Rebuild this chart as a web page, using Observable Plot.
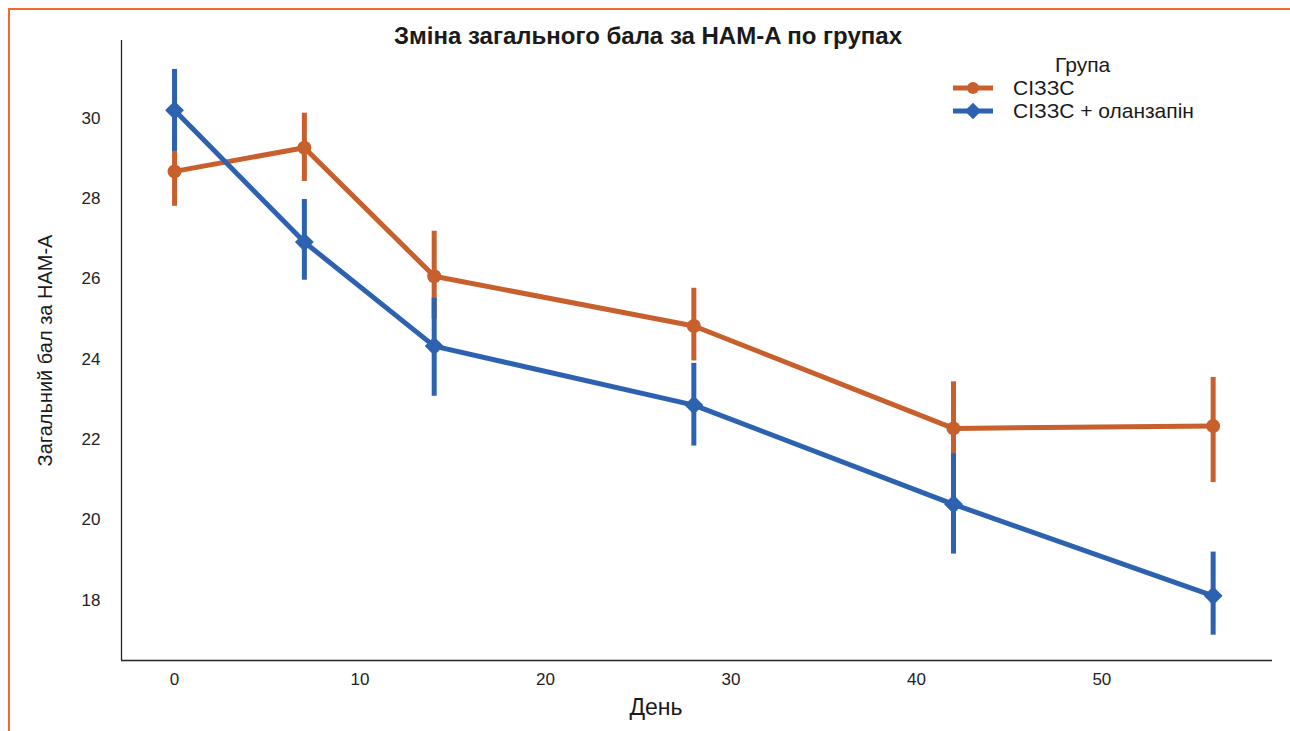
<!DOCTYPE html>
<html>
<head>
<meta charset="utf-8">
<script src="https://cdn.jsdelivr.net/npm/d3@7"></script>
<script src="https://cdn.jsdelivr.net/npm/@observablehq/plot@0.6"></script>
<style>
  html, body { margin: 0; padding: 0; background: #fff; }
  body { width: 1290px; height: 731px; position: relative; overflow: hidden; font-family: "Liberation Sans", Arial, sans-serif; }
  #frame { position: absolute; left: 8px; top: 8px; width: 1400px; height: 900px; border-left: 2.5px solid #f26a2c; border-top: 2.5px solid #f26a2c; }
  #chart { position: absolute; left: 0; top: 0; }
  #title { position: absolute; top: 22px; left: 0; width: 1296px; text-align: center; font-weight: bold; font-size: 24px; line-height: 28px; color: #1a1a1a; }
  #legend { position: absolute; left: 945px; top: 53px; font-size: 21px; line-height: 24px; color: #1a1a1a; }
  #legend .ttl { position: absolute; left: 110px; top: 0; white-space: nowrap; }
  #legend .row { position: absolute; left: 0; white-space: nowrap; height: 24px; }
  #legend .row svg { position: absolute; left: 0; top: 0; }
  #legend .row span { position: absolute; left: 68px; top: 0; }
</style>
</head>
<body>
<div id="frame"></div>
<div id="chart"></div>
<div id="title">Зміна загального бала за HAM-A по групах</div>
<div id="legend"></div>
<script>
// ---- data ----
const days = [0, 7, 14, 28, 42, 56];
const groups = ["СІЗЗС", "СІЗЗС + оланзапін"];
const ssriMean = [28.68, 29.27, 26.07, 24.83, 22.28, 22.34];
const ssriLow  = [27.81, 28.43, 25.00, 23.96, 21.12, 20.93];
const ssriHigh = [29.55, 30.13, 27.19, 25.77, 23.44, 23.55];
const olzMean  = [30.20, 26.92, 24.33, 22.86, 20.39, 18.11];
const olzLow   = [29.18, 25.97, 23.08, 21.84, 19.15, 17.13];
const olzHigh  = [31.22, 27.98, 25.52, 23.90, 21.65, 19.20];
const yTicks = [18, 20, 22, 24, 26, 28, 30];
const xTicks = [0, 10, 20, 30, 40, 50];
const colors = ["#c8602d", "#2d62b0"];
const symbols = ["circle", "diamond2"];

const rows = [];
days.forEach((d, i) => {
  rows.push({day: d, group: groups[0], mean: ssriMean[i], lo: ssriLow[i], hi: ssriHigh[i]});
});
days.forEach((d, i) => {
  rows.push({day: d, group: groups[1], mean: olzMean[i], lo: olzLow[i], hi: olzHigh[i]});
});

const xDomain = [-2.86, 59.2];
const yDomain = [16.5, 31.94];
const font = "Liberation Sans, Arial, sans-serif";

const marks = [
  Plot.axisY(yTicks, {tickSize: 0, tickPadding: 21, fontSize: 17, label: null, fill: "#222"}),
  Plot.axisX(xTicks, {tickSize: 0, tickPadding: 12, fontSize: 17, label: null, fill: "#222"}),
  Plot.ruleX([xDomain[0]], {stroke: "#262626", strokeWidth: 1.3}),
  Plot.ruleY([yDomain[0]], {stroke: "#262626", strokeWidth: 1.3}),
  Plot.text(["Загальний бал за HAM-A"], {frameAnchor: "left", textAnchor: "middle", rotate: -90, dx: -76, dy: 0, fontSize: 20, fill: "#1a1a1a"}),
  Plot.text(["День"], {frameAnchor: "bottom", textAnchor: "middle", dy: 54, dx: -41, fontSize: 23, fill: "#1a1a1a"})
];
groups.forEach((g, k) => {
  const data = rows.filter(r => r.group === g);
  marks.push(Plot.ruleX(data, {x: "day", y1: "lo", y2: "hi", stroke: colors[k], strokeWidth: 5}));
  marks.push(Plot.line(data, {x: "day", y: "mean", stroke: colors[k], strokeWidth: 5}));
  marks.push(Plot.dot(data, {x: "day", y: "mean", fill: colors[k], stroke: "none", symbol: symbols[k], r: k === 0 ? 7 : 8.5}));
});

const chart = Plot.plot({
  width: 1290,
  height: 731,
  marginLeft: 121,
  marginRight: 18,
  marginTop: 40,
  marginBottom: 71,
  style: {fontFamily: font, background: "transparent"},
  x: {domain: xDomain, axis: null},
  y: {domain: yDomain, axis: null},
  marks
});
document.getElementById("chart").appendChild(chart);

// ---- legend ----
const leg = document.getElementById("legend");
const t = document.createElement("div");
t.className = "ttl"; t.textContent = "Група";
leg.appendChild(t);
groups.forEach((g, k) => {
  const row = document.createElement("div");
  row.className = "row";
  row.style.top = (23 + k * 23) + "px";
  const svg = d3.create("svg").attr("width", 60).attr("height", 24);
  svg.append("line").attr("x1", 8).attr("x2", 48).attr("y1", 12).attr("y2", 12)
    .attr("stroke", colors[k]).attr("stroke-width", 5);
  const sym = k === 0 ? d3.symbolCircle : d3.symbolDiamond2;
  const size = k === 0 ? Math.PI * 36 : Math.PI * 56;
  svg.append("path").attr("d", d3.symbol(sym, size)()).attr("transform", "translate(28,12)").attr("fill", colors[k]);
  row.appendChild(svg.node());
  const s = document.createElement("span");
  s.textContent = g;
  row.appendChild(s);
  leg.appendChild(row);
});
</script>
</body>
</html>
